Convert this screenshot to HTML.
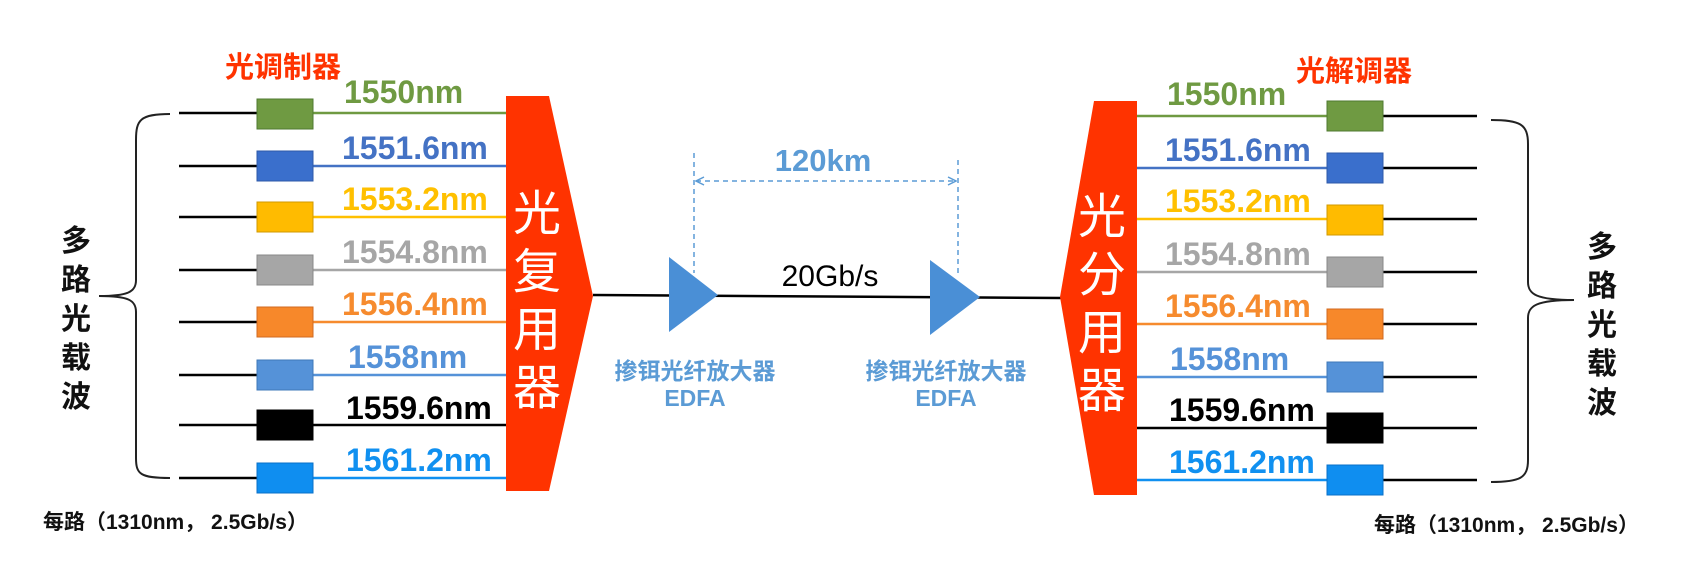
<!DOCTYPE html>
<html><head><meta charset="utf-8"><style>
html,body{margin:0;padding:0;background:#fff;}
svg{display:block;}
text{font-family:"Liberation Sans","Noto Sans CJK SC",sans-serif;}
.b{font-weight:bold;}
</style></head><body>
<svg width="1687" height="562" viewBox="0 0 1687 562" xmlns="http://www.w3.org/2000/svg">
<defs>
<marker id="ah" markerWidth="10" markerHeight="10" refX="9" refY="5" orient="auto" markerUnits="userSpaceOnUse"><path d="M1,1 L9,5 L1,9" fill="none" stroke="#5b9bd5" stroke-width="1.5"/></marker>
<marker id="at" markerWidth="10" markerHeight="10" refX="1" refY="5" orient="auto" markerUnits="userSpaceOnUse"><path d="M9,1 L1,5 L9,9" fill="none" stroke="#5b9bd5" stroke-width="1.5"/></marker>
</defs>

<text x="225" y="77" class="b" font-size="29" fill="#ff3300">光调制器</text>
<path d="M170,114 C140,114 136,120 136,140 L136,280 C136,292 128,296 99,296 C128,296 136,300 136,312 L136,458 C136,474 140,478 170,478" fill="none" stroke="#222" stroke-width="2"/>
<g class="b" font-size="30" fill="#111" text-anchor="middle">
<text x="76" y="251">多</text><text x="76" y="290">路</text><text x="76" y="329">光</text><text x="76" y="368">载</text><text x="76" y="407">波</text>
</g>
<text x="43" y="529" class="b" font-size="21" fill="#111">每路（1310nm， 2.5Gb/s）</text>

<g stroke-width="2.5">
<line x1="179" y1="113" x2="257" y2="113" stroke="#000"/><line x1="313" y1="113" x2="506" y2="113" stroke="#6f9a42"/>
<line x1="179" y1="166" x2="257" y2="166" stroke="#000"/><line x1="313" y1="166" x2="506" y2="166" stroke="#4472c4"/>
<line x1="179" y1="217" x2="257" y2="217" stroke="#000"/><line x1="313" y1="217" x2="506" y2="217" stroke="#ffc000"/>
<line x1="179" y1="270" x2="257" y2="270" stroke="#000"/><line x1="313" y1="270" x2="506" y2="270" stroke="#a6a6a6"/>
<line x1="179" y1="322" x2="257" y2="322" stroke="#000"/><line x1="313" y1="322" x2="506" y2="322" stroke="#f68b2e"/>
<line x1="179" y1="375" x2="257" y2="375" stroke="#000"/><line x1="313" y1="375" x2="506" y2="375" stroke="#5592d8"/>
<line x1="179" y1="425" x2="257" y2="425" stroke="#000"/><line x1="313" y1="425" x2="506" y2="425" stroke="#000"/>
<line x1="179" y1="478" x2="257" y2="478" stroke="#000"/><line x1="313" y1="478" x2="506" y2="478" stroke="#1090f0"/>
</g>
<g stroke-width="1">
<rect x="257" y="99" width="56" height="30" fill="#6f9a42" stroke="#4f7a30"/>
<rect x="257" y="151" width="56" height="30" fill="#3a6fcc" stroke="#2e5aa8"/>
<rect x="257" y="202" width="56" height="30" fill="#ffbb00" stroke="#d09a00"/>
<rect x="257" y="255" width="56" height="30" fill="#a6a6a6" stroke="#888"/>
<rect x="257" y="307" width="56" height="30" fill="#f7882a" stroke="#d06a20"/>
<rect x="257" y="360" width="56" height="30" fill="#5592d8" stroke="#3f78b8"/>
<rect x="257" y="410" width="56" height="30" fill="#000" stroke="#000"/>
<rect x="257" y="463" width="56" height="30" fill="#0f8ef0" stroke="#0a70c8"/>
</g>
<g class="b" font-size="32">
<text x="344" y="103" fill="#6f9a42">1550nm</text>
<text x="342" y="159" fill="#4472c4">1551.6nm</text>
<text x="342" y="210" fill="#ffc000">1553.2nm</text>
<text x="342" y="263" fill="#a6a6a6">1554.8nm</text>
<text x="342" y="315" fill="#f68b2e">1556.4nm</text>
<text x="348" y="368" fill="#5592d8">1558nm</text>
<text x="346" y="419" fill="#000">1559.6nm</text>
<text x="346" y="471" fill="#1090f0">1561.2nm</text>
</g>

<polygon points="506,96 549,96 593,296 549,491 506,491" fill="#ff3300"/>
<g font-size="48" fill="#fff" text-anchor="middle">
<text x="537" y="230">光</text><text x="537" y="288">复</text><text x="537" y="346">用</text><text x="537" y="404">器</text>
</g>

<line x1="593" y1="295" x2="1062" y2="298" stroke="#000" stroke-width="2.5"/>
<polygon points="669,257 669,332 718,295" fill="#4a8fd6"/>
<polygon points="930,260 930,335 980,297" fill="#4a8fd6"/>
<g stroke="#5b9bd5" stroke-width="1.5" stroke-dasharray="5,4" fill="none">
<line x1="694" y1="153" x2="694" y2="273"/>
<line x1="958" y1="160" x2="958" y2="277"/>
<line x1="696" y1="181" x2="956" y2="181" marker-start="url(#at)" marker-end="url(#ah)"/>
</g>
<text x="823" y="171" class="b" font-size="31" fill="#5b9bd5" text-anchor="middle">120km</text>
<text x="830" y="286" font-size="30" fill="#000" text-anchor="middle">20Gb/s</text>
<g class="b" font-size="23" fill="#5b9bd5" text-anchor="middle">
<text x="695" y="379">掺铒光纤放大器</text><text x="695" y="406">EDFA</text>
<text x="946" y="379">掺铒光纤放大器</text><text x="946" y="406">EDFA</text>
</g>

<polygon points="1094,101 1137,101 1137,495 1094,495 1060,297" fill="#ff3300"/>
<g font-size="48" fill="#fff" text-anchor="middle">
<text x="1102" y="233">光</text><text x="1102" y="291">分</text><text x="1102" y="349">用</text><text x="1102" y="407">器</text>
</g>

<text x="1296" y="81" class="b" font-size="29" fill="#ff3300">光解调器</text>
<g stroke-width="2.5">
<line x1="1137" y1="116" x2="1327" y2="116" stroke="#6f9a42"/><line x1="1383" y1="116" x2="1477" y2="116" stroke="#000"/>
<line x1="1137" y1="168" x2="1327" y2="168" stroke="#4472c4"/><line x1="1383" y1="168" x2="1477" y2="168" stroke="#000"/>
<line x1="1137" y1="219" x2="1327" y2="219" stroke="#ffc000"/><line x1="1383" y1="219" x2="1477" y2="219" stroke="#000"/>
<line x1="1137" y1="272" x2="1327" y2="272" stroke="#a6a6a6"/><line x1="1383" y1="272" x2="1477" y2="272" stroke="#000"/>
<line x1="1137" y1="324" x2="1327" y2="324" stroke="#f68b2e"/><line x1="1383" y1="324" x2="1477" y2="324" stroke="#000"/>
<line x1="1137" y1="377" x2="1327" y2="377" stroke="#5592d8"/><line x1="1383" y1="377" x2="1477" y2="377" stroke="#000"/>
<line x1="1137" y1="428" x2="1327" y2="428" stroke="#000"/><line x1="1383" y1="428" x2="1477" y2="428" stroke="#000"/>
<line x1="1137" y1="480" x2="1327" y2="480" stroke="#1090f0"/><line x1="1383" y1="480" x2="1477" y2="480" stroke="#000"/>
</g>
<g stroke-width="1">
<rect x="1327" y="101" width="56" height="30" fill="#6f9a42" stroke="#4f7a30"/>
<rect x="1327" y="153" width="56" height="30" fill="#3a6fcc" stroke="#2e5aa8"/>
<rect x="1327" y="205" width="56" height="30" fill="#ffbb00" stroke="#d09a00"/>
<rect x="1327" y="257" width="56" height="30" fill="#a6a6a6" stroke="#888"/>
<rect x="1327" y="309" width="56" height="30" fill="#f7882a" stroke="#d06a20"/>
<rect x="1327" y="362" width="56" height="30" fill="#5592d8" stroke="#3f78b8"/>
<rect x="1327" y="413" width="56" height="30" fill="#000" stroke="#000"/>
<rect x="1327" y="465" width="56" height="30" fill="#0f8ef0" stroke="#0a70c8"/>
</g>
<g class="b" font-size="32">
<text x="1167" y="105" fill="#6f9a42">1550nm</text>
<text x="1165" y="161" fill="#4472c4">1551.6nm</text>
<text x="1165" y="212" fill="#ffc000">1553.2nm</text>
<text x="1165" y="265" fill="#a6a6a6">1554.8nm</text>
<text x="1165" y="317" fill="#f68b2e">1556.4nm</text>
<text x="1170" y="370" fill="#5592d8">1558nm</text>
<text x="1169" y="421" fill="#000">1559.6nm</text>
<text x="1169" y="473" fill="#1090f0">1561.2nm</text>
</g>
<path d="M1491,120 C1520,120 1528,124 1528,144 L1528,282 C1528,294 1536,300 1574,300 C1536,300 1528,306 1528,318 L1528,460 C1528,478 1520,482 1491,482" fill="none" stroke="#222" stroke-width="2"/>
<g class="b" font-size="30" fill="#111" text-anchor="middle">
<text x="1602" y="257">多</text><text x="1602" y="296">路</text><text x="1602" y="335">光</text><text x="1602" y="374">载</text><text x="1602" y="413">波</text>
</g>
<text x="1374" y="532" class="b" font-size="21" fill="#111">每路（1310nm， 2.5Gb/s）</text>
</svg>
</body></html>
